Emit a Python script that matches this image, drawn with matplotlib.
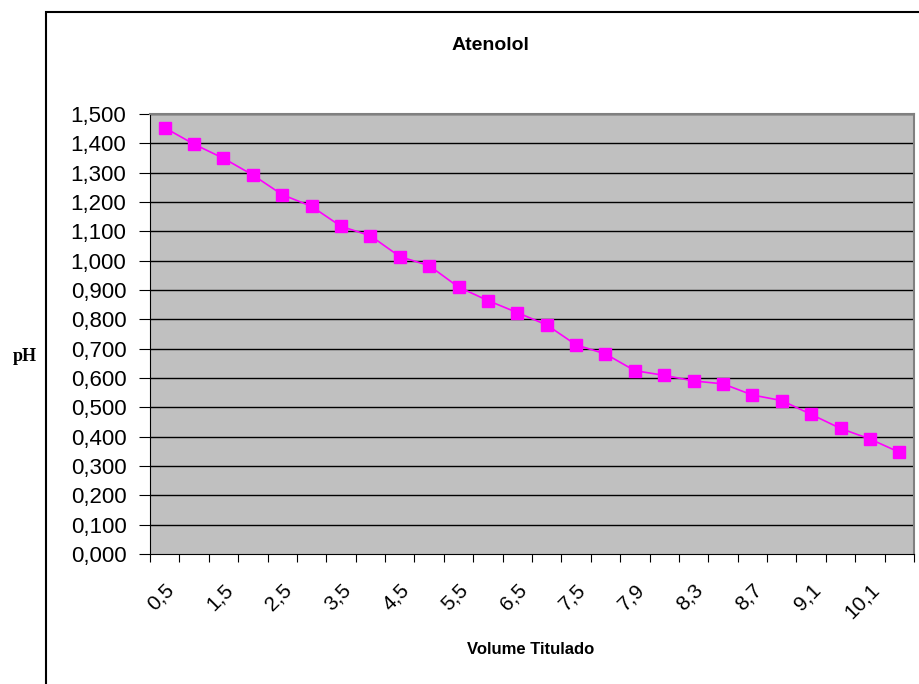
import matplotlib
matplotlib.use('Agg')
from matplotlib import pyplot as plt
from matplotlib.patches import Rectangle
from matplotlib.transforms import ScaledTranslation

# volume titulado (categories) and pH readings
volumes = ['0,5', '1,0', '1,5', '2,0', '2,5', '3,0', '3,5', '4,0', '4,5',
           '5,0', '5,5', '6,0', '6,5', '7,0', '7,5', '7,7', '7,9', '8,1',
           '8,3', '8,5', '8,7', '8,9', '9,1', '9,6', '10,1', '10,6']
ph = [1.453, 1.397, 1.349, 1.292, 1.225, 1.185, 1.117, 1.085, 1.014,
      0.983, 0.910, 0.864, 0.823, 0.781, 0.713, 0.682, 0.625, 0.609,
      0.590, 0.580, 0.542, 0.523, 0.476, 0.428, 0.392, 0.347]
y_ticks = [i / 10 for i in range(16)]

fig = plt.figure(figsize=(9.19, 6.84), dpi=100)
ax = fig.add_axes([150 / 919, 130 / 684, 764 / 919, 440 / 684])

# chart area border (clipped by the picture on right and bottom)
fig.patches.append(Rectangle((46 / 919, -0.2), 1.2, 1.2 - 12 / 684,
                             transform=fig.transFigure, fill=False,
                             edgecolor='black', lw=1.5, zorder=-1))

ax.set_facecolor('#C0C0C0')
x = list(range(len(volumes)))
ax.plot(x, ph, color='#FF00FF', lw=1.2, marker='s', markersize=8,
        markerfacecolor='#FF00FF', markeredgecolor='#FF00FF', zorder=3)

ax.set_ylim(0, 1.5)
ax.set_yticks(y_ticks)
ax.set_yticklabels([('%.3f' % v).replace('.', ',') for v in y_ticks],
                   fontname='Liberation Sans', fontsize=16)
for v in y_ticks[1:]:
    ax.axhline(v, color='black', lw=1, zorder=1)

ax.set_xlim(-0.5, len(volumes) - 0.5)
ax.set_xticks([i - 0.5 for i in range(len(volumes) + 1)])
ax.set_xticklabels([])
ax.set_xticks(x[::2], minor=True)
ax.set_xticklabels(volumes[::2], minor=True, rotation=45, ha='right',
                   rotation_mode='anchor', fontname='Liberation Sans',
                   fontsize=15)
shift = ScaledTranslation(-22 / 100, 0, fig.dpi_scale_trans)
for lab in ax.get_xticklabels(minor=True):
    lab.set_transform(lab.get_transform() + shift)
ax.tick_params(axis='x', which='major', direction='out', length=6)
ax.tick_params(axis='x', which='minor', length=0, pad=19)
ax.tick_params(axis='y', direction='out', length=8, pad=9)

for side in ['top', 'right']:
    ax.spines[side].set_color('#808080')
    ax.spines[side].set_linewidth(1.5)

fig.text(490 / 919, 1 - 45 / 684, 'Atenolol', ha='center', va='center',
         fontname='Liberation Sans', fontweight='bold', fontsize=14)
fig.text(25 / 919, 1 - 357 / 684, 'pH', ha='center', va='center',
         fontname='Liberation Serif', fontweight='bold', fontsize=13)
fig.text(531 / 919, 1 - 649 / 684, 'Volume Titulado', ha='center',
         va='center', fontname='Liberation Sans', fontweight='bold',
         fontsize=12)

plt.savefig('out.png', dpi=100)
